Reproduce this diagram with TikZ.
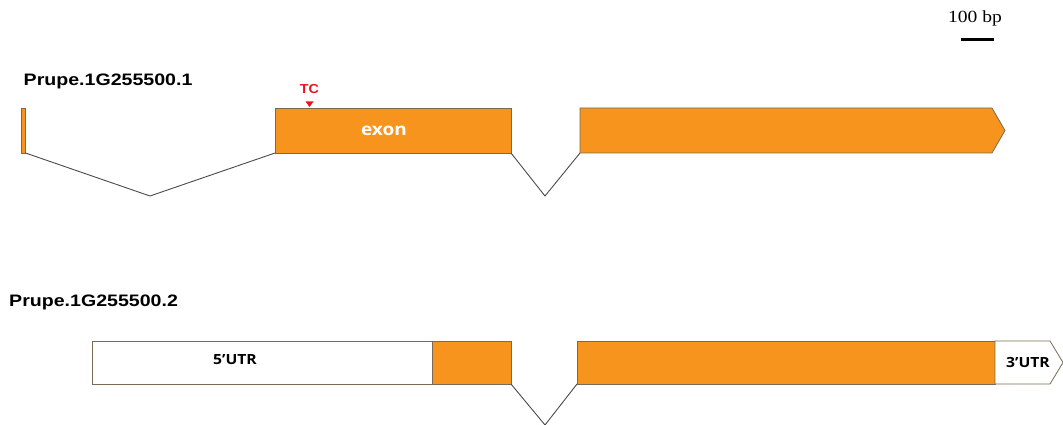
\documentclass[tikz,border=0pt]{standalone}
\usepackage{fontspec}
\setmainfont{Liberation Sans}
\newfontfamily\titleface[FakeStretch=1.18]{Liberation Sans}
\newfontfamily\serifface[FakeStretch=1.15]{Liberation Serif}
\newfontfamily\labelface[FakeStretch=1.12]{Open Sans}
\newfontfamily\tcface[FakeStretch=1.1]{Liberation Sans}
\definecolor{exonorange}{HTML}{F7941D}
\definecolor{edgegray}{HTML}{7A6A55}
\definecolor{introngray}{HTML}{4A4A4A}
\definecolor{tcred}{HTML}{E8141B}
\begin{document}
\begin{tikzpicture}[x=1pt,y=-1pt,
  exonbox/.style={fill=exonorange,draw=edgegray,line width=0.8pt},
  utrbox/.style={fill=white,draw=edgegray,line width=0.8pt},
  intronline/.style={draw=introngray,line width=0.9pt},
  title/.style={font=\titleface\bfseries\fontsize{16.6}{19}\selectfont,anchor=west,inner sep=0pt},
  lbl/.style={font=\labelface\bfseries\fontsize{14}{16}\selectfont,inner sep=0pt}]
\useasboundingbox (0,0) rectangle (1063,425);
% scale bar
\node[font=\serifface\fontsize{17}{19}\selectfont,inner sep=0pt,anchor=base] (scalelbl) at (975,23) {100 bp};
\coordinate (sbA) at (961,39.5);
\coordinate (sbB) at (994,39.5);
\draw[line width=2.6pt] (sbA) -- (sbB);
% transcript 1
\node[title,anchor=base west] (t1) at (23.5,86) {Prupe.1G255500.1};
\draw[exonbox] (21.5,108) rectangle (25.5,153);
\coordinate (e1br) at (25.5,153);
\draw[exonbox] (275,108) rectangle (511,153);
\coordinate (e2bl) at (275,153);
\coordinate (e2br) at (511,153);
\draw[exonbox] (580,108) -- (992,108) -- (1005,130.5) -- (992,153) -- (580,153) -- cycle;
\coordinate (e3bl) at (580,153);
\coordinate (i1) at (150,196);
\coordinate (i2) at (545,196);
\draw[intronline] (e1br) -- (i1) -- (e2bl);
\draw[intronline] (e2br) -- (i2) -- (e3bl);
\node[font=\labelface\bfseries\fontsize{17}{19}\selectfont,text=white,inner sep=0pt,anchor=base] (exonlbl) at (384,135.5) {exon};
\node[font=\tcface\bfseries\fontsize{13}{15}\selectfont,text=tcred,inner sep=0pt,anchor=base] (tc) at (309.5,93.5) {TC};
\fill[tcred] (305.5,101.5) -- (313.5,101.5) -- (309.5,107) -- cycle;
% transcript 2
\node[title,anchor=base west] (t2) at (9,306) {Prupe.1G255500.2};
\draw[utrbox] (92,341) rectangle (432,384);
\draw[exonbox] (432,341) rectangle (511,384);
\draw[exonbox] (577,341) rectangle (995,384);
\draw[utrbox] (995,341) -- (1050,341) -- (1063,362.5) -- (1050,384) -- (995,384) -- cycle;
\coordinate (f2br) at (511,384);
\coordinate (f3bl) at (577,384);
\coordinate (i3) at (545,425);
\draw[intronline] (f2br) -- (i3) -- (f3bl);
\node[lbl,anchor=base] (utr5) at (235,364) {5’UTR};
\node[lbl,anchor=base] (utr3) at (1028,367.5) {3’UTR};
\end{tikzpicture}
\end{document}
